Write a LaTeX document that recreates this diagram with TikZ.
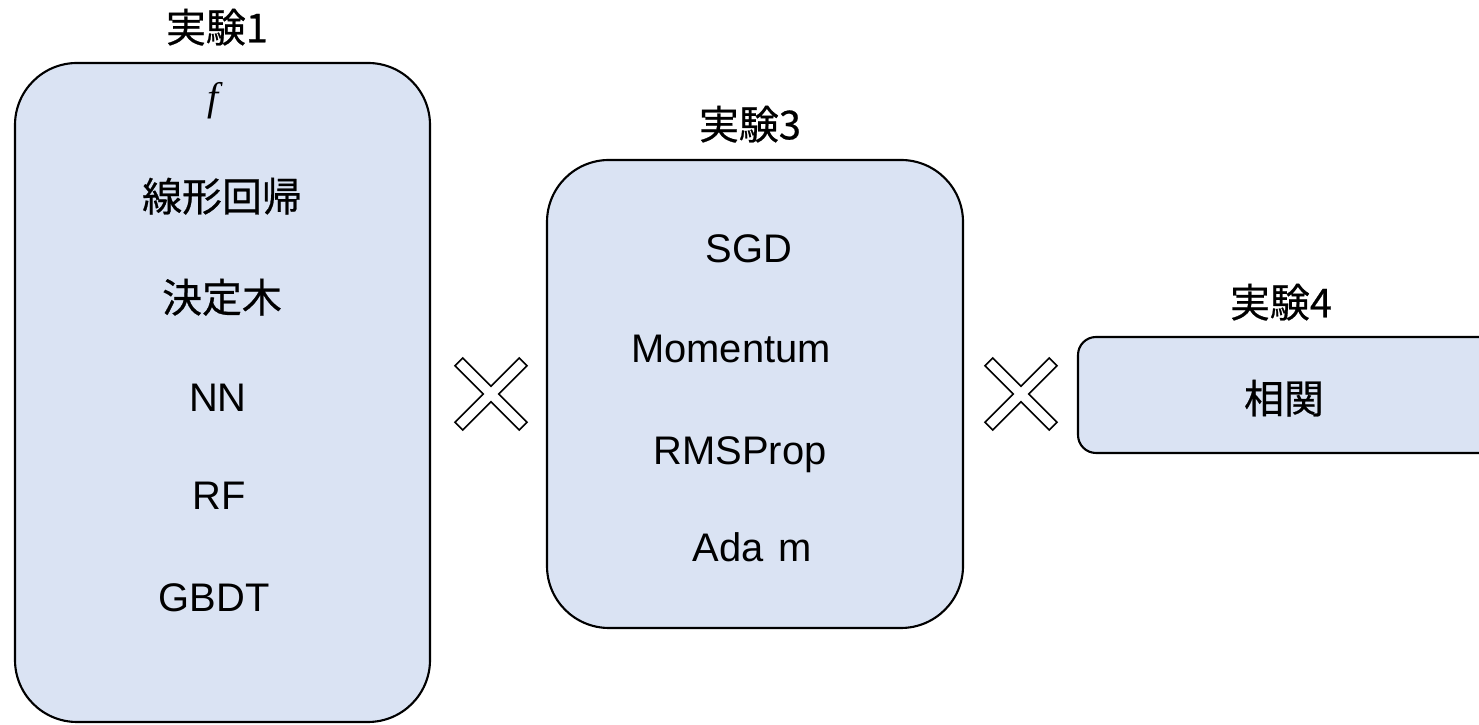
\documentclass[tikz,border=0pt]{standalone}
\usepackage{fontspec}
\setmainfont{Liberation Sans}
\newfontfamily\jp{Noto Sans CJK JP}[FakeBold=0.6]
\newfontfamily\tnr{Liberation Serif}
\definecolor{boxblue}{HTML}{DAE3F3}

\tikzset{
	expbox/.style={draw=black,fill=boxblue,line width=1.2pt,rectangle,inner sep=0pt},
	lbl/.style={font=\fontsize{22.7pt}{27pt}\selectfont,text height=0.573cm,text depth=0cm,inner sep=0pt},
	times/.style={draw=black,line width=0.9pt,fill=white}
}

\begin{document}
\begin{tikzpicture}
	
	\useasboundingbox (0,0) rectangle (29.58,14.5);
	
	% boxes
	\node[expbox,rounded corners=1.24cm,minimum width=8.3cm,minimum height=13.18cm] (exp1) at (4.45,6.65) {};
	\node[expbox,rounded corners=1.24cm,minimum width=8.32cm,minimum height=9.36cm] (exp3) at (15.10,6.62) {};
	\node[expbox,rounded corners=0.36cm,minimum width=8.8cm,minimum height=2.32cm] (exp4) at (25.96,6.60) {};
	
	% titles
	\node[lbl] (t1) at (4.34,13.94) {\jp 実験1};
	\node[lbl] (t3) at (15.00,12.00) {\jp 実験3};
	\node[lbl] (t4) at (25.62,8.44) {\jp 実験4};
	
	% experiment 1
	\node[lbl] (f) at (4.26,12.57) {\tnr\itshape f};
	\node[lbl] (lin) at (4.44,10.56) {\jp 線形回帰};
	\node[lbl] (tree) at (4.44,8.54) {\jp 決定木};
	\node[lbl] (nn) at (4.36,6.56) {NN};
	\node[lbl] (rf) at (4.38,4.60) {RF};
	\node[lbl] (gbdt) at (4.28,2.56) {GBDT};
	
	% experiment 3
	\node[lbl] (sgd) at (14.98,9.54) {SGD};
	\node[lbl] (mom) at (14.62,7.54) {Momentum};
	\node[lbl] (rms) at (14.80,5.50) {RMSProp};
	\node[lbl] (adam) at (15.04,3.56) {Ada\hspace{0.3cm}m};
	
	% experiment 4
	\node[lbl] (corr) at (25.68,6.52) {\jp 相関};
	
	% crosses
	\coordinate (x1) at (9.82,6.62);
	\coordinate (x2) at (20.42,6.62);
	\foreach \c in {x1,x2}
		\draw[times,shift={(\c)}] (0.156,0) -- (0.72,0.565) -- (0.565,0.72) -- (0,0.156)
			-- (-0.565,0.72) -- (-0.72,0.565) -- (-0.156,0) -- (-0.72,-0.565)
			-- (-0.565,-0.72) -- (0,-0.156) -- (0.565,-0.72) -- (0.72,-0.565) -- cycle;
	
\end{tikzpicture}
\end{document}
